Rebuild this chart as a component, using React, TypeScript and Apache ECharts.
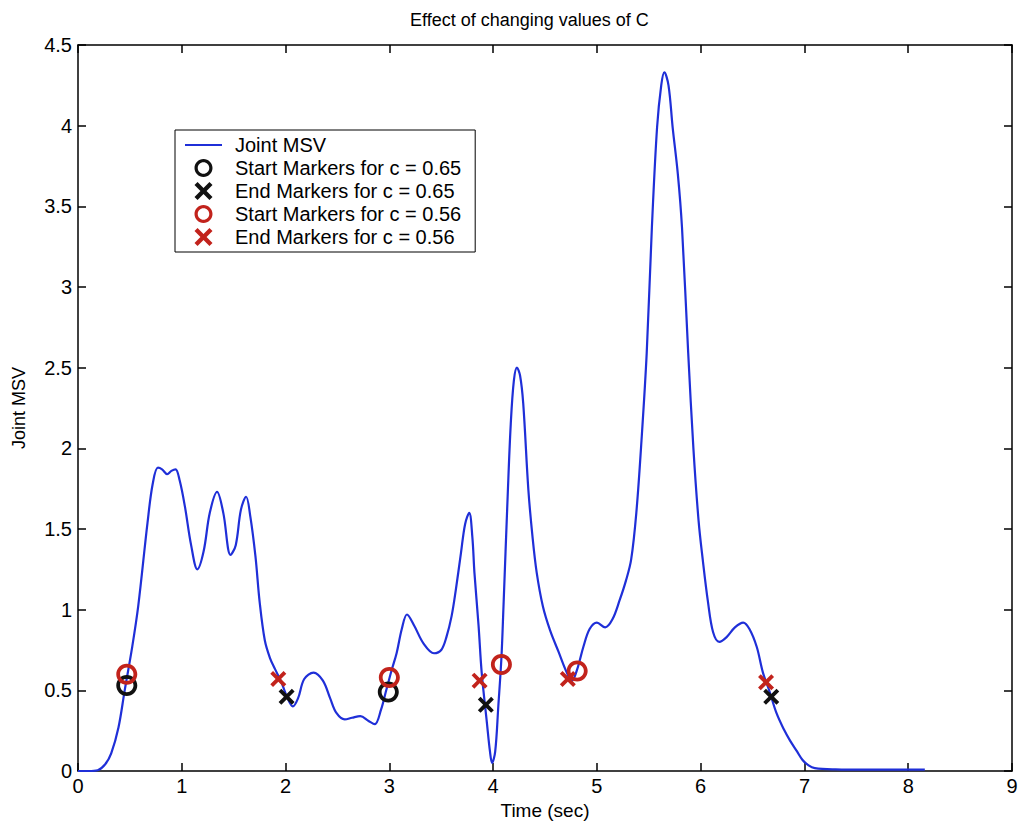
import React, { useEffect, useRef } from 'react';
import * as echarts from 'echarts';

// ---- data ----
const timeSec = [
  0, 0.1, 0.19, 0.26, 0.32, 0.39, 0.45, 0.52, 0.58, 0.67, 0.72, 0.77, 0.81, 0.86, 0.9, 0.94, 0.98,
  1.03, 1.09, 1.15, 1.21, 1.27, 1.34, 1.4, 1.47, 1.52, 1.57, 1.62, 1.66, 1.71, 1.75, 1.8, 1.85,
  1.9, 1.96, 2.02, 2.07, 2.12, 2.18, 2.27, 2.36, 2.43, 2.49, 2.57, 2.64, 2.72, 2.8, 2.86, 2.92,
  2.97, 3.02, 3.07, 3.12, 3.17, 3.24, 3.33, 3.43, 3.5, 3.55, 3.6, 3.64, 3.69, 3.73, 3.77, 3.8,
  3.82, 3.86, 3.89, 3.94, 3.97, 3.99, 4.02, 4.05, 4.08, 4.1, 4.14, 4.17, 4.2, 4.23, 4.26, 4.29,
  4.34, 4.38, 4.42, 4.48, 4.55, 4.63, 4.71, 4.76, 4.81, 4.87, 4.93, 5.0, 5.08, 5.15, 5.22, 5.28,
  5.33, 5.38, 5.43, 5.48, 5.53, 5.58, 5.62, 5.65, 5.69, 5.73, 5.78, 5.82, 5.88, 5.93, 5.98, 6.02,
  6.07, 6.12, 6.18, 6.25, 6.33, 6.41, 6.47, 6.54, 6.6, 6.66, 6.73, 6.8, 6.86, 6.93, 6.98, 7.04,
  7.1, 7.3, 7.6, 8.16,
];
const jointMsv = [
  0, 0, 0.005, 0.04, 0.11, 0.27, 0.5, 0.76, 1.02, 1.54, 1.78, 1.88, 1.87, 1.84, 1.86, 1.87, 1.8,
  1.64, 1.4, 1.25, 1.36, 1.6, 1.73, 1.6, 1.34, 1.4, 1.62, 1.7, 1.58, 1.33, 1.05, 0.81, 0.7,
  0.63, 0.55, 0.45, 0.4, 0.45, 0.57, 0.61, 0.56, 0.45, 0.36, 0.32, 0.33, 0.34, 0.31, 0.29, 0.38,
  0.5, 0.62, 0.73, 0.88, 0.97, 0.9, 0.79, 0.73, 0.75, 0.83, 0.96, 1.12, 1.35, 1.53, 1.6, 1.45,
  1.23, 0.9, 0.61, 0.3, 0.12, 0.05, 0.12, 0.4, 0.7, 1.02, 1.7, 2.15, 2.42, 2.5, 2.45, 2.28,
  1.74, 1.45, 1.23, 1.02, 0.87, 0.74, 0.61, 0.56, 0.63, 0.77, 0.88, 0.92, 0.89, 0.94, 1.06, 1.18,
  1.31, 1.6, 2.05, 2.59, 3.37, 3.99, 4.25, 4.33, 4.25, 3.99, 3.7, 3.37, 2.59, 2.0, 1.55, 1.31,
  1.05, 0.86, 0.8, 0.83, 0.89, 0.92, 0.88, 0.77, 0.61, 0.5, 0.36, 0.26, 0.19, 0.12, 0.07, 0.035,
  0.018, 0.01, 0.008, 0.008,
];
const startMarkers065 = [[0.47, 0.53], [2.99, 0.49]];
const endMarkers065 = [[2.01, 0.46], [3.93, 0.41], [6.68, 0.46]];
const startMarkers056 = [[0.47, 0.6], [3.0, 0.58], [4.08, 0.66], [4.81, 0.62]];
const endMarkers056 = [[1.93, 0.57], [3.87, 0.56], [4.72, 0.57], [6.63, 0.55]];

const seriesNames = [
  'Joint MSV',
  'Start Markers for c = 0.65',
  'End Markers for c = 0.65',
  'Start Markers for c = 0.56',
  'End Markers for c = 0.56',
];

// ---- shapes ----
function circlePath(r: number, cw: boolean): string {
  const k = 0.5523 * r;
  if (cw) {
    return `M0,${-r} C${k},${-r} ${r},${-k} ${r},0 C${r},${k} ${k},${r} 0,${r} C${-k},${r} ${-r},${k} ${-r},0 C${-r},${-k} ${-k},${-r} 0,${-r} Z`;
  }
  return `M0,${-r} C${-k},${-r} ${-r},${-k} ${-r},0 C${-r},${k} ${-k},${r} 0,${r} C${k},${r} ${r},${k} ${r},0 C${r},${-k} ${k},${-r} 0,${-r} Z`;
}
const RING = 'path://' + circlePath(10, true) + ' ' + circlePath(6.4, false);
const CROSS =
  'path://M-10,-6.6 L-6.6,-10 L0,-3.4 L6.6,-10 L10,-6.6 L3.4,0 L10,6.6 L6.6,10 L0,3.4 L-6.6,10 L-10,6.6 L-3.4,0 Z';
const LINE_ICON = 'path://M0,0 L37,0 L37,2 L0,2 Z';

const BLUE = '#1f2fd8';
const RED = '#c2231c';
const BLACK = '#111111';
const FONT = "'Liberation Sans', Arial, Helvetica, sans-serif";

export default function App() {
  const ref = useRef<HTMLDivElement>(null);

  useEffect(() => {
    if (!ref.current) return;
    const chart = echarts.init(ref.current, undefined, { renderer: 'svg' });
    const linePoints = timeSec.map((t, i) => [t, jointMsv[i]]);

    const axisCommon = {
      axisLine: { show: true, onZero: false, lineStyle: { color: '#000', width: 1.5 } },
      axisTick: { show: true, inside: true, length: 8, lineStyle: { color: '#000', width: 1.5 } },
      splitLine: { show: false },
    };

    chart.setOption({
      animation: false,
      backgroundColor: '#ffffff',
      title: {
        text: 'Effect of changing values of C',
        left: 405,
        top: 6,
        textStyle: { fontFamily: FONT, fontSize: 18, fontWeight: 'normal', color: '#000' },
      },
      grid: { left: 78, right: 9, top: 45, bottom: 52, containLabel: false, outerBoundsMode: 'none' },
      legend: {
        left: 175,
        top: 130,
        orient: 'vertical',
        selectedMode: false,
        backgroundColor: '#fff',
        borderColor: '#000',
        borderWidth: 1,
        borderRadius: 0,
        padding: [5, 14, 5, 10],
        itemGap: 3,
        itemWidth: 37,
        itemHeight: 18,
        textStyle: { fontFamily: FONT, fontSize: 20, color: '#000', padding: [0, 0, 0, 8] },
        data: [
          { name: seriesNames[0], icon: LINE_ICON },
          { name: seriesNames[1], icon: RING },
          { name: seriesNames[2], icon: CROSS },
          { name: seriesNames[3], icon: RING },
          { name: seriesNames[4], icon: CROSS },
        ],
      },
      xAxis: [
        {
          type: 'value',
          min: 0,
          max: 9,
          interval: 1,
          position: 'bottom',
          name: 'Time (sec)',
          nameLocation: 'middle',
          nameGap: 26,
          nameTextStyle: { fontFamily: FONT, fontSize: 19, color: '#000' },
          axisLabel: { fontFamily: FONT, fontSize: 20, color: '#000', margin: 5 },
          ...axisCommon,
        },
        {
          type: 'value',
          min: 0,
          max: 9,
          interval: 1,
          position: 'top',
          axisLabel: { show: false },
          ...axisCommon,
        },
      ],
      yAxis: [
        {
          type: 'value',
          min: 0,
          max: 4.5,
          interval: 0.5,
          position: 'left',
          name: 'Joint MSV',
          nameLocation: 'middle',
          nameGap: 50,
          nameTextStyle: { fontFamily: FONT, fontSize: 18, color: '#000' },
          axisLabel: { fontFamily: FONT, fontSize: 20, color: '#000', margin: 6 },
          ...axisCommon,
        },
        {
          type: 'value',
          min: 0,
          max: 4.5,
          interval: 0.5,
          position: 'right',
          axisLabel: { show: false },
          ...axisCommon,
        },
      ],
      series: [
        {
          name: seriesNames[0],
          type: 'line',
          data: linePoints,
          smooth: 0.35,
          showSymbol: false,
          symbol: 'none',
          lineStyle: { color: BLUE, width: 2.2 },
          itemStyle: { color: BLUE },
          z: 2,
        },
        {
          name: seriesNames[1],
          type: 'scatter',
          data: startMarkers065,
          symbol: RING,
          symbolSize: 21,
          itemStyle: { color: BLACK, opacity: 1 },
          z: 3,
        },
        {
          name: seriesNames[2],
          type: 'scatter',
          data: endMarkers065,
          symbol: CROSS,
          symbolSize: 16,
          itemStyle: { color: BLACK, opacity: 1 },
          z: 3,
        },
        {
          name: seriesNames[3],
          type: 'scatter',
          data: startMarkers056,
          symbol: RING,
          symbolSize: 21,
          itemStyle: { color: RED, opacity: 1 },
          z: 4,
        },
        {
          name: seriesNames[4],
          type: 'scatter',
          data: endMarkers056,
          symbol: CROSS,
          symbolSize: 16,
          itemStyle: { color: RED, opacity: 1 },
          z: 4,
        },
      ],
    });

    return () => {
      chart.dispose();
    };
  }, []);

  return (
    <div
      ref={ref}
      style={{ position: 'fixed', left: 0, top: 0, width: 1021, height: 823, background: '#fff' }}
    />
  );
}
